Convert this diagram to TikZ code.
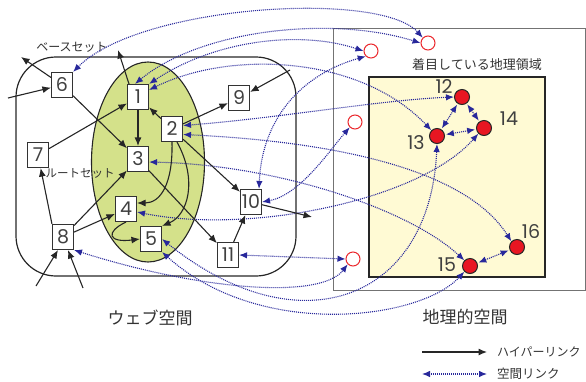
\documentclass[tikz,border=0pt]{standalone}
\usepackage{fontspec}
\setmainfont{Poppins}
\newfontfamily\jp{Noto Sans CJK JP}
\usetikzlibrary{arrows.meta}
\definecolor{leaf}{RGB}{212,225,138}
\definecolor{paleyel}{RGB}{255,250,212}
\definecolor{lblue}{RGB}{40,40,155}
\definecolor{gred}{RGB}{232,22,34}
\definecolor{hred}{RGB}{235,40,45}
\begin{document}
\begin{tikzpicture}[x=1pt,y=-1pt,
  wbox/.style={draw=black!80, line width=1.1pt, fill=white, minimum width=21pt, minimum height=25pt, inner sep=0pt, font=\fontsize{19}{19}\selectfont, text=black!75},
  hol/.style={circle, draw=hred, line width=1pt, fill=white, minimum size=14pt, inner sep=0pt},
  geo/.style={circle, draw=black!85, fill=gred, line width=1pt, minimum size=15pt, inner sep=0pt},
  hyper/.style={draw=black!85, line width=1.1pt, -{Latex[length=8.5pt,width=7pt]}},
  slink/.style={draw=lblue, line width=1.1pt, dash pattern=on 1pt off 1pt, {Latex[length=8pt,width=6.5pt]}-{Latex[length=8pt,width=6.5pt]}},
  lbl/.style={font=\fontsize{19}{19}\selectfont, text=black!75},
  jlab/.style={font=\jp\fontsize{#1}{#1}\selectfont, text=black!80, inner sep=0pt}
]
\useasboundingbox (0,0) rectangle (586,381);
% backgrounds
\draw[line width=1.2pt, black!85, rounded corners=40pt] (16,57) rectangle (296,276);
\draw[line width=1.1pt, black!85, fill=leaf] (148,162) ellipse [x radius=56.5pt, y radius=100pt];
\draw[line width=1pt, black!55] (333,28) rectangle (585,290);
\draw[line width=1.1pt, black!85, fill=paleyel] (369,77) rectangle (545,277);

% labels
\node[jlab=12] (tbase) at (72,47) {ベースセット};
\node[jlab=11.5] (troot) at (80,173) {ルートセット};
\node[jlab=17] (tweb) at (150,318) {ウェブ空間};
\node[jlab=13] (tfocus) at (477,65) {着目している地理領域};
\node[jlab=17] (tgeo) at (465,317) {地理的空間};
\node[jlab=12, anchor=west] (thyp) at (497,352) {ハイパーリンク};
\node[jlab=12.5, anchor=west] (tsp) at (497,374) {空間リンク};

% web nodes
\node[wbox] (n6) at (62,85) {6};
\node[wbox] (n1) at (138,97) {1};
\node[wbox] (n9) at (239,98) {9};
\node[wbox] (n2) at (172,129) {2};
\node[wbox] (n3) at (138,159) {3};
\node[wbox] (n7) at (38,155) {7};
\node[wbox] (n4) at (126,209) {4};
\node[wbox] (n5) at (151,239) {5};
\node[wbox] (n8) at (63,237) {8};
\node[wbox] (n10) at (251,202) {10};
\node[wbox] (n11) at (228,255) {11};

% geo nodes
\node[hol] (h1) at (428,43) {};
\node[hol] (h2) at (371,51) {};
\node[hol] (h3) at (355,122) {};
\node[hol] (h4) at (353,259) {};
\node[geo] (n12) at (462,97) {};
\node[geo] (n14) at (484,128) {};
\node[geo] (n13) at (437,136) {};
\node[geo] (n16) at (517,247) {};
\node[geo] (n15) at (470,266) {};
\node[lbl] (l12) at (444,87) {12};
\node[lbl] (l14) at (509,119) {14};
\node[lbl] (l13) at (416,143) {13};
\node[lbl] (l16) at (531,232) {16};
\node[lbl] (l15) at (447,265) {15};

% free ends
\coordinate (c6in) at (8,98);
\coordinate (c6out) at (21,57);
\coordinate (c1out) at (118,50);
\coordinate (c9in) at (290,70);
\coordinate (c10out) at (312,217);
\coordinate (c8a) at (36,286);
\coordinate (c8b) at (83,288);

% spatial links
\draw[slink] (n6.north east) .. controls (140,5) and (380,-10) .. (h1.north west);
\draw[slink] ([xshift=-3pt]n1.north) .. controls (200,30) and (330,15) .. (h1.west);
\draw[slink] (n1.north east) .. controls (215,40) and (300,30) .. (h2.west);
\draw[slink] ([yshift=7pt]n1.east) .. controls (230,50) and (360,55) .. (n13.north west);
\draw[slink] ([xshift=8pt]n10.north) .. controls (262,120) and (300,75) .. (h2.south west);
\draw[slink] (n10.east) .. controls (300,195) and (330,150) .. (h3.south west);
\draw[slink] ([yshift=3.5pt]n2.east) .. controls (280,118) and (380,100) .. (n12.west);
\draw[slink] ([yshift=-5.5pt]n2.east) .. controls (300,140) and (460,160) .. (n16.north west);
\draw[slink] ([yshift=-3pt]n3.east) .. controls (280,165) and (410,210) .. (n15.north west);
\draw[slink] ([yshift=-3pt]n4.east) .. controls (250,235) and (420,200) .. (n14.south west);
\draw[slink] (n11.east) -- (h4.west);
\draw[slink] (n8.south east) .. controls (200,290) and (320,300) .. (h4.south west);
\draw[slink] (n5.east) .. controls (300,350) and (430,300) .. (n13.south);
\draw[slink] (n5.south east) .. controls (260,340) and (420,320) .. (n15.south west);
\draw[slink, shorten <=1pt, shorten >=1pt] (n12) -- (n13);
\draw[slink, shorten <=1pt, shorten >=1pt] (n12) -- (n14);
\draw[slink, shorten <=1pt, shorten >=1pt] (n13) -- (n14);
\draw[slink, shorten <=1pt, shorten >=1pt] (n15) -- (n16);

% hyperlinks
\draw[hyper] (c6in) -- (n6);
\draw[hyper] (n6) -- (c6out);
\draw[hyper] (n6) -- (n3);
\draw[hyper] ([xshift=-9pt]n1.north) -- (c1out);
\draw[hyper] (n7) -- (n1);
\draw[hyper] (n1) -- (n3);
\draw[hyper] (n2) -- (n1);
\draw[hyper] (n2) -- (n9);
\draw[hyper] (c9in) -- (n9);
\draw[hyper] (n2) -- (n10);
\draw[hyper] (n2.south) .. controls (173,185) and (160,203) .. ([yshift=6pt]n4.east);
\draw[hyper] ([xshift=5pt]n2.south) .. controls (198,180) and (188,215) .. (n5.north east);
\draw[hyper] (n3) -- (n11);
\draw[hyper] (n8) -- (n3);
\draw[hyper] (n8) -- (n4);
\draw[hyper] (n8.north west) -- (n7);
\draw[hyper] (n4.south) .. controls (105,232) and (108,243) .. (n5.west);
\draw[hyper] (n11) -- (n10);
\draw[hyper] (n10) -- (c10out);
\draw[hyper] (c8a) -- ([xshift=-5pt]n8.south);
\draw[hyper] (c8b) -- ([xshift=5pt]n8.south);

% legend
\coordinate (la) at (422,352);
\coordinate (lb) at (487,352);
\coordinate (lc) at (422,374);
\coordinate (ld) at (487,374);
\draw[hyper] (la) -- (lb);
\draw[slink] (lc) -- (ld);
\end{tikzpicture}
\end{document}
